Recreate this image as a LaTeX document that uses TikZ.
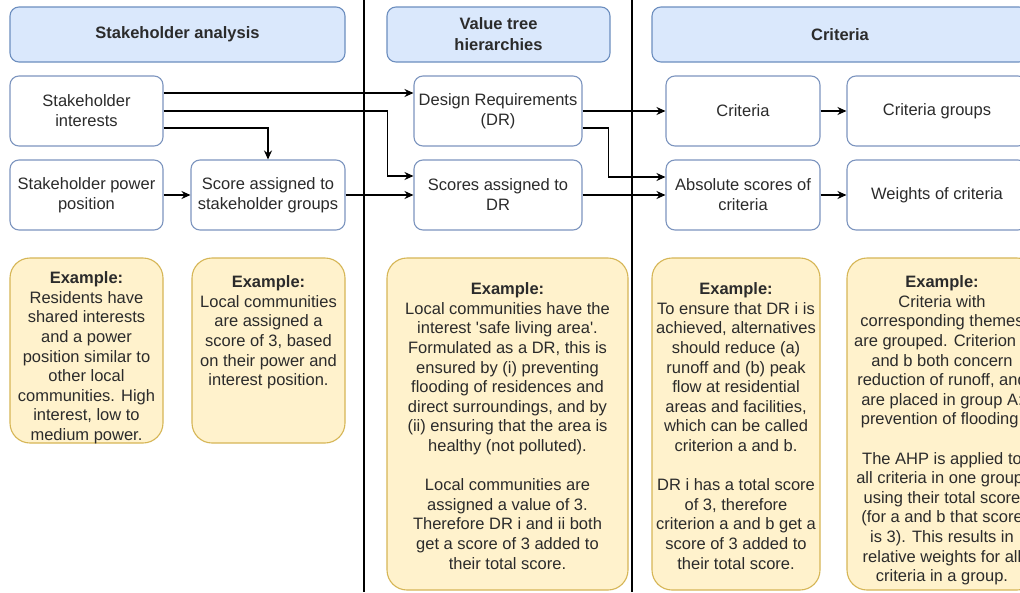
\documentclass[tikz,border=0pt]{standalone}
\usepackage{fontspec}
\setmainfont{Liberation Sans}
\usetikzlibrary{arrows.meta}
\definecolor{hdrfill}{HTML}{DAE8FC}
\definecolor{hdrline}{HTML}{6C8EBF}
\definecolor{boxline}{HTML}{7D95BF}
\definecolor{exfill}{HTML}{FFF2CC}
\definecolor{exline}{HTML}{D6B656}
\definecolor{txt}{HTML}{2B2B2B}
\begin{document}
\begin{tikzpicture}[x=1pt,y=-1pt,
  every node/.style={font=\fontsize{16.5}{19.6}\selectfont, text=txt},
  hdr/.style={draw=hdrline, fill=hdrfill, line width=1.1pt, rounded corners=9pt,
    minimum height=55pt, align=center, inner sep=0pt,
    font=\fontsize{16.5}{21}\selectfont\bfseries},
  box/.style={draw=boxline, fill=white, line width=1.1pt, rounded corners=9pt,
    minimum height=70pt, align=center, inner sep=0pt,
    font=\fontsize{16.5}{20}\selectfont},
  exbox/.style={draw=exline, fill=exfill, line width=1.1pt, rounded corners=20pt, inner sep=0pt},
  extext/.style={align=center, inner sep=0pt, anchor=north},
  conn/.style={line width=1.4pt, -{Stealth[length=9pt,width=8pt]}},
  sep/.style={line width=1.2pt}
]
\path[use as bounding box] (0,0) rectangle (1020,592);
\clip (0,0) rectangle (1020,592);
\fill[white] (0,0) rectangle (1020,592);

% column separators
\coordinate (s1t) at (364,0);  \coordinate (s1b) at (364,592);
\coordinate (s2t) at (632,0);  \coordinate (s2b) at (632,592);
\draw[sep] (s1t) -- (s1b);
\draw[sep] (s2t) -- (s2b);

% column headers
\node[hdr, minimum width=335pt] (h1) at (177.5,34.5) {Stakeholder analysis};
\node[hdr, minimum width=223pt] (h2) at (498.5,34.5) {Value tree\\hierarchies};
\node[hdr, minimum width=376pt] (h3) at (840,34.5) {Criteria};

% process steps
\node[box, minimum width=153pt] (SI)  at (86.5,111) {Stakeholder\\interests};
\node[box, minimum width=153pt] (SPP) at (86.5,195) {Stakeholder power\\position};
\node[box, minimum width=154pt] (SSG) at (268,195)  {Score assigned to\\stakeholder groups};
\node[box, minimum width=168pt] (DR)  at (498,111)  {Design Requirements\\(DR)};
\node[box, minimum width=168pt] (SDR) at (498,195)  {Scores assigned to\\DR};
\node[box, minimum width=154pt] (CR)  at (743,111)  {Criteria};
\node[box, minimum width=180pt] (CG)  at (937,111)  {Criteria groups};
\node[box, minimum width=154pt] (AS)  at (743,195)  {Absolute scores of\\criteria};
\node[box, minimum width=180pt] (WC)  at (937,195)  {Weights of criteria};

% connectors
\coordinate (a1) at ([yshift=18pt]SI.east);
\draw[conn] (a1) -- (a1 -| DR.west);
\coordinate (a2) at (SI.east);
\coordinate (b2) at ([yshift=19pt]SDR.west);
\draw[conn] (a2) -- ++(224,0) |- (b2);
\coordinate (a3) at ([yshift=-17pt]SI.east);
\draw[conn] (a3) -| (SSG.north);
\draw[conn] (SPP.east) -- (SSG.west);
\draw[conn] (SSG.east) -- (SDR.west);
\draw[conn] (DR.east) -- (CR.west);
\coordinate (a7) at ([yshift=-17pt]DR.east);
\coordinate (b7) at ([yshift=18pt]AS.west);
\draw[conn] (a7) -- ++(26,0) |- (b7);
\draw[conn] (SDR.east) -- (AS.west);
\draw[conn] (CR.east) -- (CG.west);
\draw[conn] (AS.east) -- (WC.west);

% worked examples
\node[exbox, minimum width=153pt, minimum height=185pt] (E1) at (86.5,350.5) {};
\node[exbox, minimum width=153pt, minimum height=185pt] (E2) at (268.5,350.5) {};
\node[exbox, minimum width=241pt, minimum height=332pt] (E3) at (507.5,424) {};
\node[exbox, minimum width=168pt, minimum height=332pt] (E4) at (736,424) {};
\node[exbox, minimum width=190pt, minimum height=332pt] (E5) at (942,424) {};

\node[extext] (T1) at ([yshift=-14pt]E1.north) {\textbf{Example:}\\Residents have\\shared interests\\and a power\\position similar to\\other local\\communities. High\\interest, low to\\medium power.};
\node[extext] (T2) at ([yshift=-18pt]E2.north) {\textbf{Example:}\\Local communities\\are assigned a\\score of 3, based\\on their power and\\interest position.};
\node[extext] (T3) at ([yshift=-25pt]E3.north) {\textbf{Example:}\\Local communities have the\\interest \textquotesingle safe living area\textquotesingle.\\Formulated as a DR, this is\\ensured by (i) preventing\\flooding of residences and\\direct surroundings, and by\\(ii) ensuring that the area is\\healthy (not polluted).\\[19.6pt]Local communities are\\assigned a value of 3.\\Therefore DR i and ii both\\get a score of 3 added to\\their total score.};
\node[extext] (T4) at ([yshift=-25pt]E4.north) {\textbf{Example:}\\To ensure that DR i is\\achieved, alternatives\\should reduce (a)\\runoff and (b) peak\\flow at residential\\areas and facilities,\\which can be called\\criterion a and b.\\[19.6pt]DR i has a total score\\of 3, therefore\\criterion a and b get a\\score of 3 added to\\their total score.};
\node[extext] (T5) at ([yshift=-18pt]E5.north) {\textbf{Example:}\\Criteria with\\corresponding themes\\are grouped. Criterion a\\and b both concern\\reduction of runoff, and\\are placed in group A:\\prevention of flooding.\\[19.6pt]The AHP is applied to\\all criteria in one group,\\using their total score\\(for a and b that score\\is 3). This results in\\relative weights for all\\criteria in a group.};
\end{tikzpicture}
\end{document}
